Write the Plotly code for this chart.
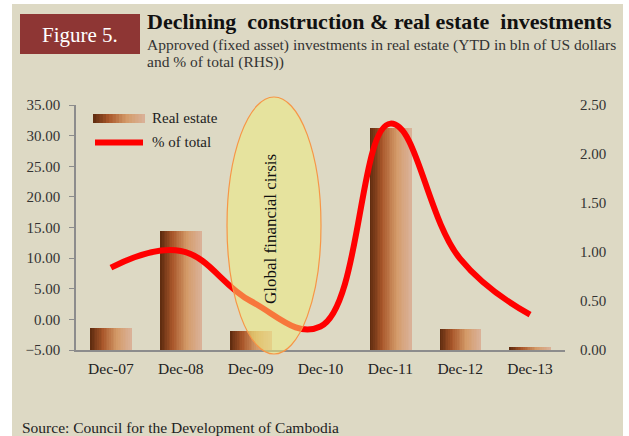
import plotly.graph_objects as go

# ---------------- data ----------------
categories = ["Dec-07", "Dec-08", "Dec-09", "Dec-10", "Dec-11", "Dec-12", "Dec-13"]
real_estate = [-1.45, 14.4, -1.9, None, 31.3, -1.6, -4.55]      # left axis (bln USD)
pct_of_total = [0.84, 1.01, 0.50, 0.24, 2.31, 0.93, 0.36]         # right axis
left_ticks = [-5, 0, 5, 10, 15, 20, 25, 30, 35]
right_ticks = [0, 0.5, 1.0, 1.5, 2.0, 2.5]

LEFT_MIN, LEFT_MAX = -5, 35
RIGHT_MIN, RIGHT_MAX = 0, 2.5

# ---------------- geometry helpers (pixel -> paper) ----------------
W, H = 629, 436
L, R, T, B = 76, 565, 105, 350
PW, PH = R - L, B - T


def px(x):
    return (x - L) / PW


def py(y):
    return (B - y) / PH


FONT = "Liberation Serif"
BG = "#DDD9C4"

# gradient stops for the bars (left -> right)
stops = [(0.0, (92, 42, 14)), (0.3, (168, 86, 42)), (0.65, (212, 155, 105)), (1.0, (218, 178, 154))]


def grad(t):
    for (t0, c0), (t1, c1) in zip(stops[:-1], stops[1:]):
        if t0 <= t <= t1:
            f = (t - t0) / (t1 - t0)
            return "rgb(%d,%d,%d)" % tuple(round(a + (b - a) * f) for a, b in zip(c0, c1))
    return "rgb(%d,%d,%d)" % stops[-1][1]


fig = go.Figure()

BAR_W = 0.59
N = 24
heights = [None if v is None else v - LEFT_MIN for v in real_estate]
for i in range(N):
    fig.add_trace(go.Bar(
        x=categories, y=heights, base=LEFT_MIN,
        width=BAR_W / N * 1.35, offset=-BAR_W / 2 + i * BAR_W / N,
        marker=dict(color=grad((i + 0.5) / N), line=dict(width=0)),
        showlegend=False, hoverinfo="skip", yaxis="y",
    ))

fig.add_trace(go.Scatter(
    x=categories, y=pct_of_total, yaxis="y2", mode="lines",
    line=dict(color="#FF0000", width=6, shape="spline", smoothing=1.2),
    showlegend=False, hoverinfo="skip",
))

shapes = []
# beige background panel
shapes.append(dict(type="rect", xref="paper", yref="paper", layer="below",
                   x0=px(12), x1=px(623), y0=py(436), y1=py(4),
                   fillcolor=BG, line=dict(width=0)))
# Figure label box
shapes.append(dict(type="rect", xref="paper", yref="paper",
                   x0=px(20), x1=px(140), y0=py(54), y1=py(14),
                   fillcolor="#8E3634", line=dict(width=0)))
# ellipse (global financial crisis)
shapes.append(dict(type="circle", xref="paper", yref="paper", layer="above",
                   x0=px(227), x1=px(321), y0=py(354), y1=py(97),
                   fillcolor="rgba(240,238,120,0.5)", line=dict(color="#F79646", width=1.2)))
# legend swatches: gradient bar
M = 16
for i in range(M):
    x0 = 93 + (145 - 93) * i / M
    x1 = 93 + (145 - 93) * (i + 1.3) / M
    shapes.append(dict(type="rect", xref="paper", yref="paper",
                       x0=px(x0), x1=px(min(x1, 145)), y0=py(123), y1=py(114),
                       fillcolor=grad((i + 0.5) / M), line=dict(width=0)))
# legend line swatch
shapes.append(dict(type="line", xref="paper", yref="paper",
                   x0=px(95), x1=px(143), y0=py(142.5), y1=py(142.5),
                   line=dict(color="#FF0000", width=6)))

annotations = [
    dict(text="Figure 5.", x=px(80), y=py(35), xref="paper", yref="paper",
         xanchor="center", yanchor="middle", showarrow=False,
         font=dict(family=FONT, size=21, color="white")),
    dict(text="<b>Declining\u00a0 construction & real estate\u00a0 investments</b>",
         x=px(145), y=py(22), xref="paper", yref="paper",
         xanchor="left", yanchor="middle", showarrow=False,
         font=dict(family=FONT, size=22, color="#111")),
    dict(text="Approved (fixed asset) investments in real estate (YTD in bln of US dollars",
         x=px(145), y=py(45), xref="paper", yref="paper",
         xanchor="left", yanchor="middle", showarrow=False,
         font=dict(family=FONT, size=15.5, color="#333")),
    dict(text="and % of total (RHS))",
         x=px(145), y=py(62), xref="paper", yref="paper",
         xanchor="left", yanchor="middle", showarrow=False,
         font=dict(family=FONT, size=15.5, color="#333")),
    dict(text="Real estate", x=px(150), y=py(118), xref="paper", yref="paper",
         xanchor="left", yanchor="middle", showarrow=False,
         font=dict(family=FONT, size=15, color="#222")),
    dict(text="% of total", x=px(150), y=py(142), xref="paper", yref="paper",
         xanchor="left", yanchor="middle", showarrow=False,
         font=dict(family=FONT, size=15, color="#222")),
    dict(text="Global financial cirsis", x=px(270), y=py(229), xref="paper", yref="paper",
         xanchor="center", yanchor="middle", showarrow=False, textangle=-90,
         font=dict(family=FONT, size=17, color="#111")),
    dict(text="Source: Council for the Development of Cambodia",
         x=px(20), y=py(427), xref="paper", yref="paper",
         xanchor="left", yanchor="middle", showarrow=False,
         font=dict(family=FONT, size=15.5, color="#222")),
]

fig.update_layout(
    width=W, height=H,
    margin=dict(l=L, r=W - R, t=T, b=H - B, pad=0),
    paper_bgcolor="white", plot_bgcolor="rgba(0,0,0,0)",
    barmode="overlay", bargap=0,
    showlegend=False,
    font=dict(family=FONT, size=15, color="#222"),
    xaxis=dict(type="category", categoryorder="array", categoryarray=categories,
               showgrid=False, zeroline=False, showline=True, linecolor="#8C8C8C",
               linewidth=2, ticks="", ticklabelstandoff=3,
               tickfont=dict(family=FONT, size=15.5, color="#222")),
    yaxis=dict(range=[LEFT_MIN, LEFT_MAX], tickvals=left_ticks, tickformat=".2f",
               showgrid=False, zeroline=False, showline=True, linecolor="#8C8C8C",
               linewidth=1.5, ticks="outside", ticklen=5, tickcolor="#8C8C8C",
               ticklabelstandoff=6,
               tickfont=dict(family=FONT, size=15, color="#333")),
    yaxis2=dict(range=[RIGHT_MIN, RIGHT_MAX], tickvals=right_ticks, tickformat=".2f",
                overlaying="y", side="right", showgrid=False, zeroline=False,
                showline=False, ticks="", ticklabelstandoff=14,
                tickfont=dict(family=FONT, size=15, color="#333")),
    shapes=shapes,
    annotations=annotations,
)

fig.write_html("out.html", config={"displayModeBar": False},
               post_script="document.body.style.margin='0';document.body.style.overflow='hidden';")
